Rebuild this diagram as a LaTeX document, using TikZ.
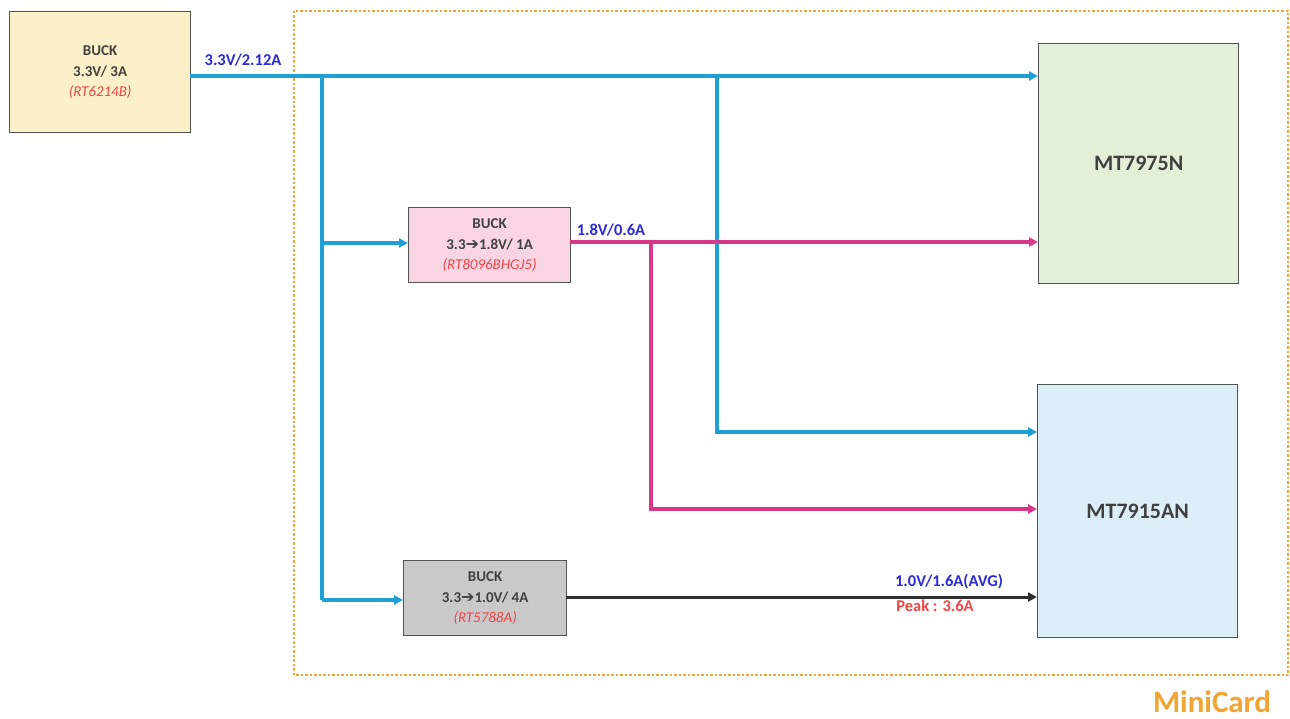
\documentclass[tikz,border=0pt]{standalone}
\usepackage{fontspec}
\setmainfont{Carlito}
\newfontfamily\djv{DejaVu Sans}
\usetikzlibrary{arrows.meta}
\definecolor{lineblue}{HTML}{1E9FD6}
\definecolor{linepink}{HTML}{D9388A}
\definecolor{lineblack}{HTML}{303030}
\definecolor{lblblue}{HTML}{2B2BD9}
\definecolor{lblred}{HTML}{F04545}
\definecolor{frameor}{HTML}{F0A535}
\definecolor{fillyel}{HTML}{FBF0C9}
\definecolor{fillpink}{HTML}{F9D5E3}
\definecolor{fillgray}{HTML}{C9C9C9}
\definecolor{fillgreen}{HTML}{E3F0D8}
\definecolor{fillblue}{HTML}{DCEEF8}
\definecolor{txtgray}{HTML}{404040}
\newcommand{\harr}{{\djv\bfseries\fontsize{16}{15}\selectfont ➔}}
\tikzset{
  boxst/.style={draw=txtgray!90, line width=1.3pt, anchor=north west, inner sep=0pt,
    align=center, text=txtgray, font=\fontsize{15}{20.5}\selectfont\bfseries},
  chipst/.style={draw=txtgray!90, line width=1.3pt, anchor=north west, inner sep=0pt,
    text=txtgray, font=\fontsize{22}{24}\selectfont\bfseries},
  conn/.style={line width=3.5pt, -{Triangle[length=9pt,width=9pt]}},
  seg/.style={line width=3.5pt},
  lbl/.style={font=\fontsize{16.5}{18}\selectfont\bfseries, inner sep=0pt},
}
\begin{document}
\begin{tikzpicture}[x=1pt,y=-1pt]
\useasboundingbox (0,0) rectangle (1290,719);
\fill[white] (0,0) rectangle (1290,719);
% frame
\draw[frameor, line width=1.8pt, dash pattern=on 2.5pt off 2pt] (294,11) rectangle (1288,675);
\node[text=frameor, font=\fontsize{31}{33}\selectfont\bfseries, inner sep=0pt, anchor=base] (mc) at (1212,712) {MiniCard};
% boxes
\node[boxst, fill=fillyel, minimum width=181pt, minimum height=121pt] (b1) at (9,11)
  {BUCK\\3.3V/ 3A\\{\color{lblred}\mdseries\itshape (RT6214B)}};
\node[boxst, fill=fillpink, minimum width=162pt, minimum height=75pt] (b2) at (408,207)
  {BUCK\\3.3\harr1.8V/ 1A\\{\color{lblred}\mdseries\itshape (RT8096BHGJ5)}};
\node[boxst, fill=fillgray, minimum width=163pt, minimum height=75pt] (b3) at (403,560)
  {BUCK\\3.3\harr1.0V/ 4A\\{\color{lblred}\mdseries\itshape (RT5788A)}};
\node[chipst, fill=fillgreen, minimum width=200pt, minimum height=240pt] (m1) at (1038,43) {MT7975N};
\node[chipst, fill=fillblue, minimum width=200pt, minimum height=253pt] (m2) at (1037,384) {MT7915AN};
% junction coordinates
\coordinate (s1) at (190,76);
\coordinate (ja) at (322,76);
\coordinate (jb) at (717,76);
\coordinate (ja2) at (322,243);
\coordinate (ja3) at (322,600);
\coordinate (jb2) at (717,432);
\coordinate (p0) at (570,242);
\coordinate (pj) at (651,242);
\coordinate (pj2) at (651,509);
\coordinate (k0) at (566,597);
% blue
\draw[lineblue, conn] (s1) -- (m1.west |- s1);
\draw[lineblue, seg] (ja) -- (ja3);
\draw[lineblue, conn] (ja2) -- (b2.west |- ja2);
\draw[lineblue, conn] (ja3) -- (b3.west |- ja3);
\draw[lineblue, conn] (jb) -- (jb2) -- (m2.west |- jb2);
% pink
\draw[linepink, conn] (p0) -- (m1.west |- p0);
\draw[linepink, conn] (pj) -- (pj2) -- (m2.west |- pj2);
% black
\draw[lineblack, line width=3pt, -{Triangle[length=9pt,width=9pt]}] (k0) -- (m2.west |- k0);
% labels
\node[lbl, text=lblblue] (l1) at (243,60) {3.3V/2.12A};
\node[lbl, text=lblblue] (l2) at (611,230) {1.8V/0.6A};
\node[lbl, text=lblblue] (l3) at (949,582) {1.0V/1.6A(AVG)};
\node[lbl, text=lblred] (l4) at (935,606) {Peak : 3.6A};
\end{tikzpicture}
\end{document}
